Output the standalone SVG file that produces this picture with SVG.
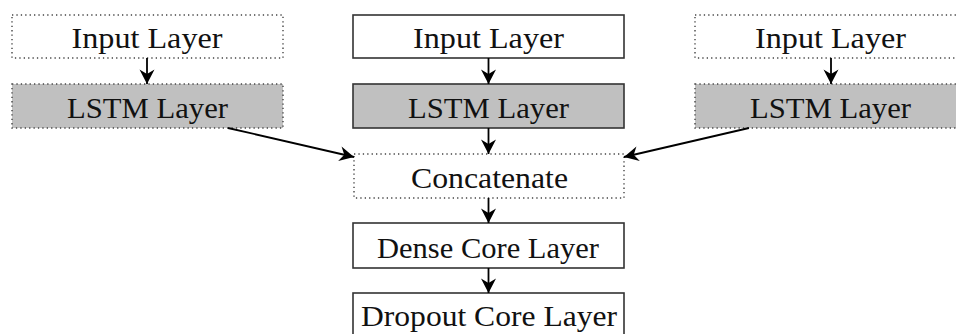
<svg xmlns="http://www.w3.org/2000/svg" width="956" height="334" viewBox="0 0 956 334">
<defs>
<marker id="ah" markerUnits="userSpaceOnUse" markerWidth="20" markerHeight="20" viewBox="-16 -10 20 20" refX="0" refY="0" orient="auto">
<path d="M0,0 L-14.5,-7.5 L-10,0 L-14.5,7.5 Z" fill="#000"/>
</marker>
</defs>
<style>
.box{stroke:#333;stroke-width:1.6;fill:#fff}
.dot{stroke:#444;stroke-width:1.4;stroke-dasharray:1.3 3.1;fill:#fff}
.gray{fill:#c0c0c0}
.t{font-family:"Liberation Serif","Times New Roman",serif;font-size:29px;fill:#111;text-anchor:middle}
.c{stroke:#000;stroke-width:1.8;fill:none;marker-end:url(#ah)}
</style>
<g id="input_left"><rect class="dot" x="12" y="15" width="271" height="43"/><text class="t" x="147" y="48" textLength="151" lengthAdjust="spacingAndGlyphs">Input Layer</text></g>
<g id="lstm_left"><rect class="dot gray" x="12" y="84" width="271" height="44"/><text class="t" x="147.5" y="118" textLength="161" lengthAdjust="spacingAndGlyphs">LSTM Layer</text></g>
<g id="input_mid"><rect class="box" x="353" y="15" width="271" height="43"/><text class="t" x="488.5" y="48" textLength="151" lengthAdjust="spacingAndGlyphs">Input Layer</text></g>
<g id="lstm_mid"><rect class="box gray" x="353" y="84" width="271" height="44"/><text class="t" x="488.5" y="118" textLength="161" lengthAdjust="spacingAndGlyphs">LSTM Layer</text></g>
<g id="input_right"><rect class="dot" x="695" y="15" width="271" height="43"/><text class="t" x="830.5" y="48" textLength="151" lengthAdjust="spacingAndGlyphs">Input Layer</text></g>
<g id="lstm_right"><rect class="dot gray" x="695" y="84" width="271" height="44"/><text class="t" x="830.5" y="118" textLength="161" lengthAdjust="spacingAndGlyphs">LSTM Layer</text></g>
<g id="concat"><rect class="dot" x="354" y="154" width="270" height="44"/><text class="t" x="489.5" y="188" textLength="157" lengthAdjust="spacingAndGlyphs">Concatenate</text></g>
<g id="dense"><rect class="box" x="353" y="223" width="271" height="45"/><text class="t" x="488" y="258" textLength="222" lengthAdjust="spacingAndGlyphs">Dense Core Layer</text></g>
<g id="dropout"><rect class="box" x="353" y="293" width="271" height="48"/><text class="t" x="489" y="326" textLength="256" lengthAdjust="spacingAndGlyphs">Dropout Core Layer</text></g>
<g id="connectors">
<line class="c" x1="147" y1="58" x2="147" y2="84"/>
<line class="c" x1="488.5" y1="58" x2="488.5" y2="84"/>
<line class="c" x1="831" y1="58" x2="831" y2="84"/>
<line class="c" x1="488.5" y1="128" x2="488.5" y2="154"/>
<line class="c" x1="228" y1="128" x2="354" y2="157"/>
<line class="c" x1="749" y1="128" x2="624" y2="157"/>
<line class="c" x1="488.5" y1="198" x2="488.5" y2="223"/>
<line class="c" x1="488.5" y1="268" x2="488.5" y2="293"/>
</g>
</svg>
